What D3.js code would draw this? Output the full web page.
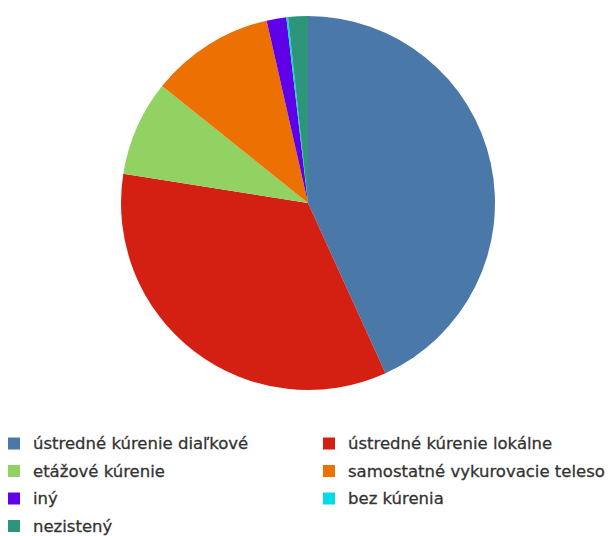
<!DOCTYPE html>
<html>
<head>
<meta charset="utf-8">
<script src="https://cdn.jsdelivr.net/npm/d3@7"></script>
<style>
  body { margin: 0; background: #fff; }
  text { font-family: "DejaVu Sans", sans-serif; }
</style>
</head>
<body>
<div id="chart"></div>
<script>
const categories = [
  'ústredné kúrenie diaľkové',
  'ústredné kúrenie lokálne',
  'etážové kúrenie',
  'samostatné vykurovacie teleso',
  'iný',
  'bez kúrenia',
  'nezistený'
];
const values = [43.2, 34.3, 8.25, 10.7, 1.7, 0.15, 1.7];
const colors = ['#4a78a9', '#d42012', '#91d263', '#ec7102', '#6000e8', '#00dbe8', '#2d957a'];

const width = 608, height = 536;
const cx = 308, cy = 203, radius = 187;

const svg = d3.select('#chart').append('svg')
  .attr('width', width)
  .attr('height', height);

const pie = d3.pie().sort(null).value(d => d);
const arc = d3.arc().innerRadius(0).outerRadius(radius);

const g = svg.append('g').attr('transform', `translate(${cx},${cy})`);
g.selectAll('path')
  .data(pie(values))
  .enter().append('path')
  .attr('d', arc)
  .attr('fill', (d, i) => colors[i]);

// legend, two columns
const legend = svg.append('g');
const items = legend.selectAll('g')
  .data(categories)
  .enter().append('g')
  .attr('transform', (d, i) => `translate(${i % 2 ? 323 : 8},${437.5 + Math.floor(i / 2) * 27.5})`);
items.append('rect')
  .attr('width', 12).attr('height', 12)
  .attr('fill', (d, i) => colors[i]);
items.append('text')
  .attr('x', 25).attr('y', 11.5)
  .attr('font-size', 16.5)
  .attr('fill', '#333')
  .attr('stroke', '#333')
  .attr('stroke-width', 0.3)
  .text(d => d);
</script>
</body>
</html>
